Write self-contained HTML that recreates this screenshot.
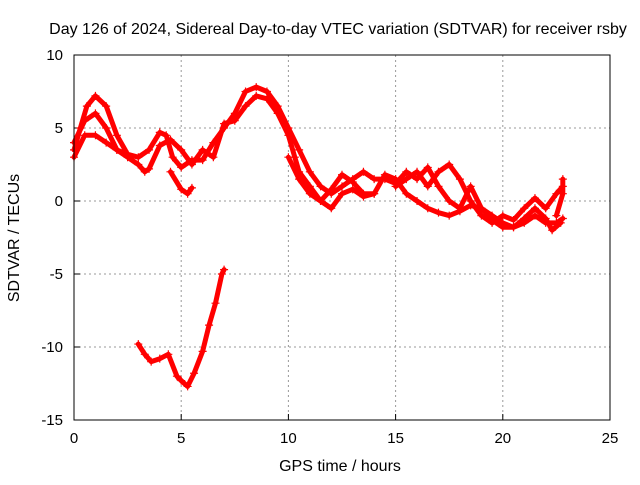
<!DOCTYPE html>
<html><head><meta charset="utf-8"><style>
body{margin:0;background:#fff;}
svg text{font-family:"Liberation Sans",sans-serif;font-size:16px;fill:#000;}
svg text.tick{font-size:15px;}
</style></head><body>
<svg id="chart" width="640" height="480" viewBox="0 0 640 480" xmlns="http://www.w3.org/2000/svg">
<g id="grid"></g>
<g id="axes"></g>
<g id="series"></g>
<rect x="74" y="55" width="536" height="365" fill="none" stroke="#000" stroke-width="1"/>
<text x="338" y="34" text-anchor="middle">Day 126 of 2024, Sidereal Day-to-day VTEC variation (SDTVAR) for receiver rsby</text>
<text x="340" y="471" text-anchor="middle">GPS time / hours</text>
<text transform="translate(19,238) rotate(-90)" text-anchor="middle">SDTVAR / TECUs</text>
</svg>
<script>
const xTicks=[0,5,10,15,20,25];
const yTicks=[10,5,0,-5,-10,-15];
const track1T=[0,0.3,0.6,1,1.5,2,2.5,3,3.5,4,4.3,4.6,5,5.5,6,6.5,7,7.5,8,8.5,9,9.5,10,10.5,11,11.5,12,12.5,13,13.5,14,14.5,15,15.5,16,16.5,17,17.5,18,18.5,19,19.5,20,20.5,21,21.5,22,22.5,22.8];
const track1V=[3.5,5,6.5,7.2,6.5,4.5,3.2,3,3.5,4.7,4.5,3,2.3,2.8,2.8,4,5,6,7.5,7.8,7.5,6.5,5,3.5,2,1,0.5,1,1.5,2,1.5,1.5,1.2,2,1.5,2.3,1,0,-0.5,1,-0.5,-1,-1.5,-1.8,-1.5,-1,-1.5,-1.5,-1.2];
const track2T=[0,0.5,1,1.5,2,2.5,3,3.3,3.5,4,4.5,5,5.5,6,6.5,7,7.5,8,8.5,9,9.5,10,10.3,10.5,11,11.5,12,12.5,13,13.5,14,14.5,15,15.5,16,16.5,17,17.5,18,18.5,19,19.5,20,20.5,21,21.5,22,22.3,22.7];
const track2V=[4,5.5,6,5,3.5,3,2.5,2,2.2,3.8,4.2,3.5,2.5,3.5,3,5.3,5.5,6.5,7.2,7,6,4.5,3,2,1,0,-0.5,0.5,0.8,0.3,0.5,1.8,1.5,0.5,0,-0.5,-0.8,-1,-0.7,-0.3,-0.5,-1.3,-1.8,-1.8,-1.2,-0.5,-1.2,-2,-1.5];
const track3T=[0,0.5,1,1.5,2,2.5];
const track3V=[3,4.5,4.5,4,3.5,3.2];
const track4T=[4.5,5,5.3,5.5];
const track4V=[2,0.8,0.5,0.9];
const track5T=[10,10.5,11,11.5,12,12.5,13,13.5,14];
const track5V=[3,1.5,0.5,0,0.8,1.8,1.3,0.5,0.5];
const track6T=[15,15.5,16,16.5,17,17.5,18,18.5,19,19.5,20,20.5,21,21.5,22,22.5,22.8];
const track6V=[1,1.5,2,1,2,2.5,1.5,0,-1,-1.5,-1,-1.3,-0.5,0.2,-0.5,0.5,1];
const track7T=[22.5,22.8,22.8];
const track7V=[-1,0.5,1.5];
const track8T=[3,3.3,3.6,4,4.4,4.8,5,5.3,5.6,6,6.3,6.6,6.9,7];
const track8V=[-9.8,-10.5,-11,-10.8,-10.5,-12,-12.3,-12.7,-11.8,-10.3,-8.5,-7,-5,-4.7];
const tracks=[[track1T,track1V],[track2T,track2V],[track3T,track3V],[track4T,track4V],[track5T,track5V],[track6T,track6V],[track7T,track7V],[track8T,track8V]];
const NS='http://www.w3.org/2000/svg';
const X0=74,X1=610,Y0=420,Y1=55;
function xs(t){return X0+(t-0)/25*(X1-X0);}
function ys(v){return Y0-(v+15)/25*(Y0-Y1);}
function mk(tag,attrs,parent){const e=document.createElementNS(NS,tag);for(const k in attrs)e.setAttribute(k,attrs[k]);parent.appendChild(e);return e;}
const grid=document.getElementById('grid'),axes=document.getElementById('axes'),series=document.getElementById('series');
xTicks.forEach(t=>{
  const x=xs(t);
  if(t>0&&t<25){const g=mk('line',{x1:x,y1:Y1,x2:x,y2:Y0,stroke:'#999','stroke-dasharray':'2,3','stroke-width':1},grid);
  
  }
  const tk=mk('line',{x1:x,y1:Y0,x2:x,y2:Y0-6,stroke:'#000'},axes);
  
  
  const tx=mk('text',{x:x,y:Y0+23,'text-anchor':'middle','class':'tick'},axes);tx.textContent=t;
  
  
});
yTicks.forEach(v=>{
  const y=ys(v);
  if(v>-15&&v<10){const g=mk('line',{x1:X0,y1:y,x2:X1,y2:y,stroke:'#999','stroke-dasharray':'2,3','stroke-width':1},grid);
  
  }
  const tk=mk('line',{x1:X0,y1:y,x2:X0+6,y2:y,stroke:'#000'},axes);
  
  
  const tx=mk('text',{x:X0-11,y:y+5,'text-anchor':'end','class':'tick'},axes);tx.textContent=v;
  
  
});
tracks.forEach(([T,V])=>{
  const pts=T.map((t,i)=>xs(t).toFixed(1)+','+ys(V[i]).toFixed(1)).join(' ');
  const pl=mk('polyline',{points:pts,fill:'none',stroke:'#f00','stroke-width':5,'stroke-linejoin':'round','stroke-linecap':'round'},series);
  
  
  T.forEach((t,i)=>{
    const x=xs(t),y=ys(V[i]);
    const p=mk('path',{d:`M${x-4},${y}H${x+4}M${x},${y-4}V${y+4}`,stroke:'#f00','stroke-width':1.2},series);
    
    
  });
});
</script>
</body></html>
